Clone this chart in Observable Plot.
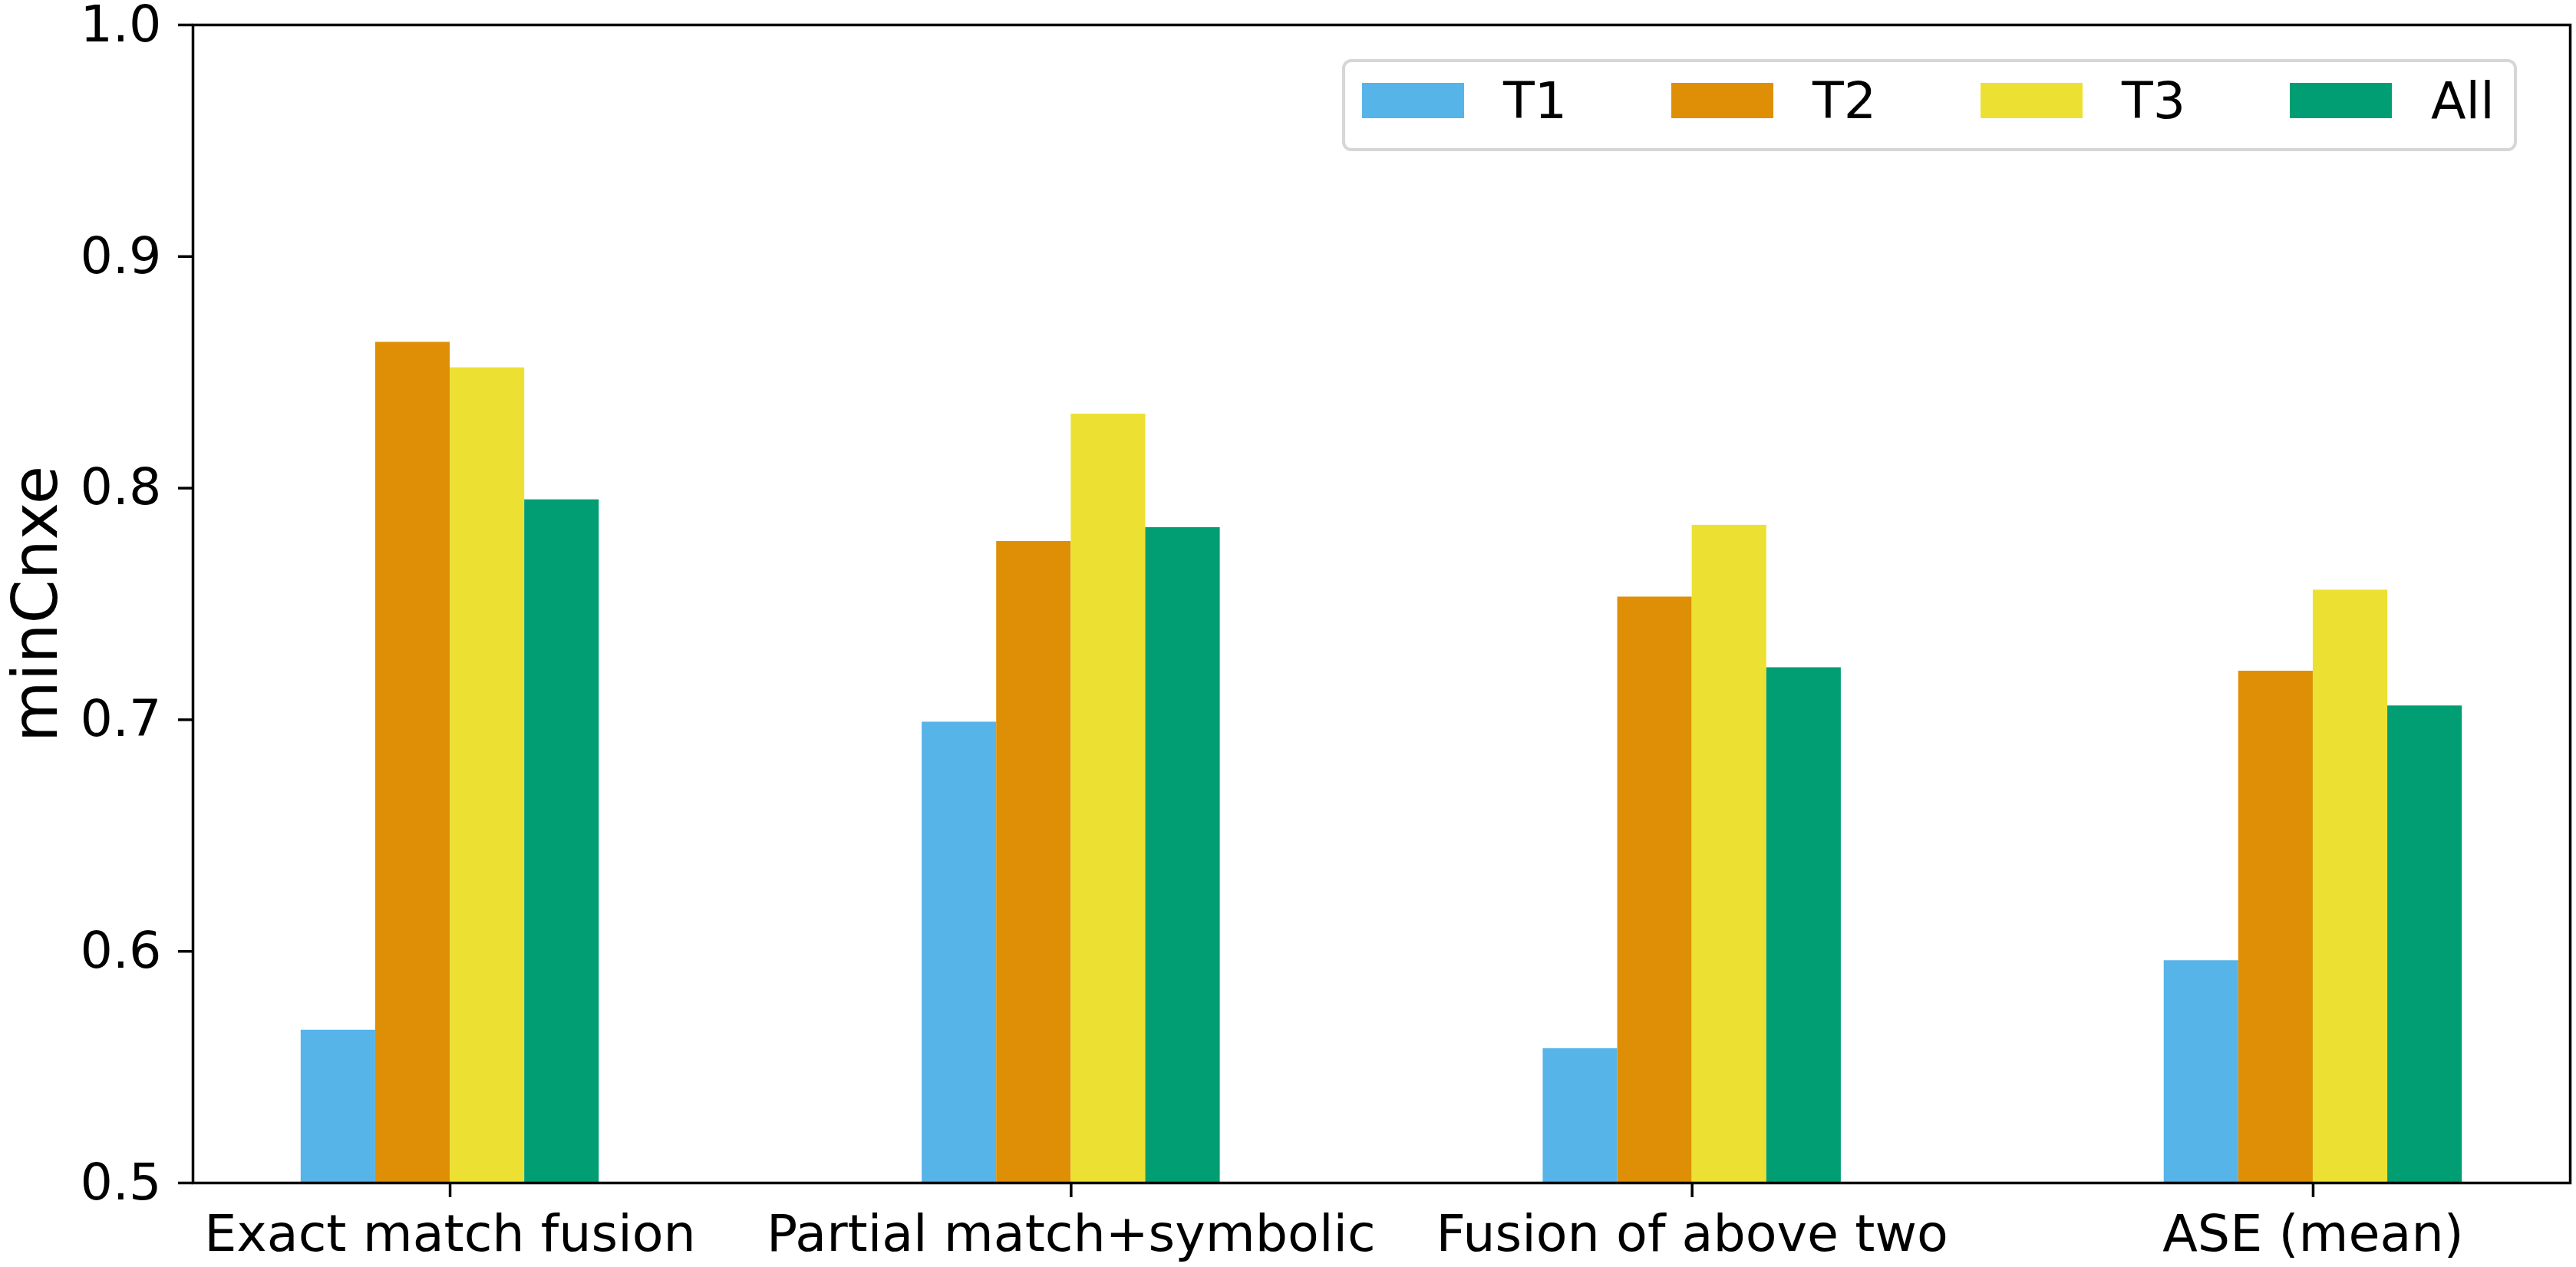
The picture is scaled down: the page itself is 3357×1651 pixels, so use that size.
<!DOCTYPE html>
<html>
<head>
<meta charset="utf-8">
<script src="https://cdn.jsdelivr.net/npm/d3@7"></script>
<script src="https://cdn.jsdelivr.net/npm/@observablehq/plot@0.6"></script>
<style>
  html, body { margin: 0; padding: 0; background: white; }
  #wrap { position: relative; width: 3357px; height: 1651px; font-family: "DejaVu Sans", sans-serif; }
  #legend {
    position: absolute; left: 1749px; top: 77px; width: 1531px; height: 120px;
    box-sizing: border-box; border: 4px solid #d6d6d6; border-radius: 12px; background: rgba(255,255,255,0.8);
    display: flex; align-items: flex-start; padding-left: 22px; padding-top: 27px;
  }
  .item { display: flex; align-items: center; height: 46px; width: 403px; }
  .item:last-child { width: auto; }
  .sw { width: 133px; height: 46px; margin-right: 51px; flex: none; }
  .lab { font-size: 66.7px; color: black; white-space: nowrap; }
</style>
</head>
<body>
<div id="wrap"></div>
<script>
const categories = ["Exact match fusion", "Partial match+symbolic", "Fusion of above two", "ASE (mean)"];
const series = ["T1", "T2", "T3", "All"];
const T1  = [0.566, 0.699, 0.558, 0.596];
const T2  = [0.863, 0.777, 0.753, 0.721];
const T3  = [0.852, 0.832, 0.784, 0.756];
const All = [0.795, 0.783, 0.7225, 0.706];
const colors = ["#56B4E9", "#DE8F05", "#ECE133", "#029E73"];
const yTicks = [0.5, 0.6, 0.7, 0.8, 0.9, 1.0];

const values = [T1, T2, T3, All];
const barWidth = 0.12;
const rows = [];
series.forEach((s, si) => {
  categories.forEach((c, ci) => {
    const left = ci + (si - series.length / 2) * barWidth;
    rows.push({series: s, category: c, value: values[si][ci], x1: left, x2: left + barWidth});
  });
});
const lo = -barWidth * series.length / 2;
const hi = categories.length - 1 + barWidth * series.length / 2;
const pad = (hi - lo) * 0.05;

const chart = Plot.plot({
  width: 3357,
  height: 1651,
  marginLeft: 251,
  marginRight: 8,
  marginTop: 32,
  marginBottom: 110,
  style: {fontFamily: "DejaVu Sans", fontSize: "66.7px", color: "black", background: "white", overflow: "visible"},
  x: {domain: [lo - pad, hi + pad]},
  y: {domain: [0.5, 1.0]},
  color: {domain: series, range: colors},
  marks: [
    Plot.rectY(rows, {x1: "x1", x2: "x2", y1: 0.5, y2: "value", fill: "series", inset: 0}),
    Plot.axisX({ticks: d3.range(categories.length), tickFormat: i => categories[i], tickSize: 19, tickPadding: 22, strokeWidth: 3.5, label: null, fill: "black"}),
    Plot.axisY({ticks: yTicks, tickFormat: d3.format(".1f"), tickSize: 19, tickPadding: 22, strokeWidth: 3.5, label: null, fill: "black"}),
    Plot.text(["minCnxe"], {frameAnchor: "left", rotate: -90, dx: -204, fontSize: 82, fill: "black", textAnchor: "middle", lineAnchor: "middle"}),
    Plot.frame({stroke: "black", strokeWidth: 3.5})
  ]
});
const wrap = document.getElementById("wrap");
wrap.appendChild(chart);

const legend = document.createElement("div");
legend.id = "legend";
series.forEach((s, i) => {
  const item = document.createElement("div");
  item.className = "item";
  const sw = document.createElement("div");
  sw.className = "sw";
  sw.style.background = colors[i];
  const lab = document.createElement("span");
  lab.className = "lab";
  lab.textContent = s;
  item.appendChild(sw);
  item.appendChild(lab);
  legend.appendChild(item);
});
wrap.appendChild(legend);
</script>
</body>
</html>
